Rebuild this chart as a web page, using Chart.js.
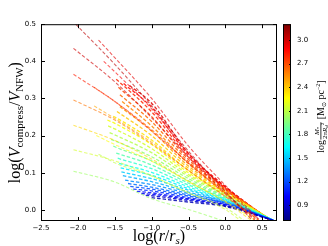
<!DOCTYPE html>
<html>
<head>
<meta charset="utf-8">
<script src="https://cdn.jsdelivr.net/npm/chart.js@4.4.0/dist/chart.umd.min.js"></script>
<style>
  html, body { margin: 0; padding: 0; background: #fff; }
  canvas { display: block; }
</style>
</head>
<body>
<canvas id="chart" width="328" height="246"></canvas>
<script>
// colour value of every curve: log M*/2piRd^2 [Msun pc^-2]
const magVal = [3.05, 2.95, 3.00, 2.90, 2.82, 2.70, 2.60, 2.48, 2.36, 2.26, 2.16, 2.10, 2.02,
                0.82, 0.90, 0.98, 1.05, 1.12, 1.20, 1.28, 1.36, 1.44, 1.52, 1.60, 1.68, 1.76, 1.84,
                1.92, 2.00, 2.08, 2.16, 2.24, 2.32, 2.40, 2.48, 2.56, 2.64, 2.72, 2.80, 2.88, 2.96];
// first point of each curve
const startX = [-2.03, -1.72, -2.06, -1.65, -2.06, -1.78, -2.06, -1.78, -2.06, -1.75, -2.06, -1.72, -2.06,
                -1.00, -1.08, -1.14, -1.20, -1.25, -1.29, -1.32, -1.36, -1.39, -1.41, -1.42, -1.44, -1.46, -1.48,
                -1.52, -1.55, -1.57, -1.59, -1.60, -1.52, -1.47, -1.43, -1.40, -1.43, -1.45, -1.48, -1.38, -1.30];
const startY = [0.500, 0.457, 0.435, 0.400, 0.365, 0.330, 0.296, 0.280, 0.228, 0.200, 0.162, 0.150, 0.104,
                0.033, 0.039, 0.044, 0.050, 0.056, 0.063, 0.071, 0.080, 0.092, 0.102, 0.113, 0.125, 0.139, 0.153,
                0.172, 0.190, 0.208, 0.226, 0.242, 0.252, 0.265, 0.278, 0.292, 0.310, 0.330, 0.352, 0.340, 0.335];
// y read at x = -1.5, -1.0, -0.5, 0.0 (null: curve not there)
const gridX = [-1.5, -1.0, -0.5, 0.0];
const yAtM15 = [0.392, 0.410, 0.345, 0.372, 0.292, 0.292, 0.242, 0.246, 0.187, 0.176, 0.132, 0.127, 0.075,
                null, null, null, null, null, null, null, null, null, null, null, null, null, null,
                0.170, 0.186, 0.202, 0.218, 0.233, 0.250, null, null, null, null, null, null, null, null];
const yAtM10 = [0.280, 0.300, 0.248, 0.272, 0.212, 0.216, 0.178, 0.182, 0.137, 0.131, 0.092, 0.091, 0.030,
                null, 0.038, 0.042, 0.046, 0.051, 0.056, 0.061, 0.068, 0.076, 0.084, 0.093, 0.101, 0.111, 0.121,
                0.132, 0.143, 0.154, 0.165, 0.176, 0.188, 0.200, 0.213, 0.226, 0.238, 0.251, 0.264, 0.276, 0.287];
const yAtM05 = [0.158, 0.172, 0.142, 0.152, 0.126, 0.126, 0.106, 0.106, 0.077, 0.076, 0.046, 0.046, 0.001,
                0.021, 0.025, 0.028, 0.030, 0.033, 0.037, 0.040, 0.044, 0.048, 0.053, 0.057, 0.062, 0.067, 0.072,
                0.078, 0.084, 0.090, 0.095, 0.100, 0.106, 0.112, 0.118, 0.124, 0.130, 0.136, 0.142, 0.147, 0.152];
const yAt00 = [0.050, 0.066, 0.046, 0.056, 0.042, 0.045, 0.036, 0.036, 0.021, 0.023, 0.001, 0.006, null,
               0.009, 0.011, 0.013, 0.014, 0.016, 0.018, 0.019, 0.021, 0.022, 0.024, 0.026, 0.028, 0.030, 0.032,
               0.035, 0.037, 0.040, 0.042, 0.044, 0.046, 0.048, 0.051, 0.053, 0.055, 0.057, 0.059, 0.061, 0.063];
// last point of each curve
const endX = [0.35, 0.45, 0.40, 0.45, 0.40, 0.45, 0.45, 0.45, 0.35, 0.40, 0.20, 0.25, -0.05,
              0.64, 0.64, 0.64, 0.65, 0.65, 0.65, 0.65, 0.65, 0.65, 0.65, 0.65, 0.65, 0.65, 0.65,
              0.65, 0.64, 0.64, 0.64, 0.64, 0.64, 0.63, 0.63, 0.63, 0.62, 0.62, 0.61, 0.60, 0.60];
const endY = [-0.025, -0.025, -0.025, -0.025, -0.028, -0.028, -0.028, -0.028, -0.028, -0.028, -0.028, -0.028, -0.028,
              -0.028, -0.028, -0.028, -0.028, -0.028, -0.028, -0.028, -0.028, -0.028, -0.028, -0.028, -0.028, -0.028, -0.028,
              -0.028, -0.028, -0.028, -0.028, -0.028, -0.028, -0.028, -0.028, -0.028, -0.028, -0.028, -0.028, -0.028, -0.028];
// the first 13 curves are the long, paler dashed ones
const longCount = 13;

const xTicks = [-2.5, -2.0, -1.5, -1.0, -0.5, 0.0, 0.5];
const yTicks = [0.0, 0.1, 0.2, 0.3, 0.4, 0.5];
const cbTicks = [0.9, 1.2, 1.5, 1.8, 2.1, 2.4, 2.7, 3.0];
const cbMin = 0.7, cbMax = 3.2;

// matplotlib 'jet'
function jet(t, a) {
    const c = v => Math.round(255 * Math.max(0, Math.min(1, v)));
    return `rgba(${c(1.5 - Math.abs(4 * t - 3))},${c(1.5 - Math.abs(4 * t - 2))},${c(1.5 - Math.abs(4 * t - 1))},${a})`;
}

function curve(i) {
    const pts = [{ x: startX[i], y: startY[i] }];
    const cols = [yAtM15, yAtM10, yAtM05, yAt00];
    gridX.forEach((gx, j) => {
        const v = cols[j][i];
        if (v !== null && gx > startX[i] && gx < endX[i]) pts.push({ x: gx, y: v });
    });
    pts.push({ x: endX[i], y: endY[i] });
    return pts;
}

const fmt = v => (v < 0 ? '\u2212' : '') + Math.abs(v).toFixed(1);
const serif = 'Liberation Serif';

// draws a run of text pieces centred on (cx, cy), rotated
function drawRich(ctx, parts, cx, cy, rot) {
    ctx.save();
    ctx.translate(cx, cy);
    ctx.rotate(rot);
    ctx.fillStyle = '#000';
    ctx.textBaseline = 'alphabetic';
    let total = 0;
    parts.forEach(p => {
        if (p.num) {
            const wOf = arr => arr.reduce((s, q) => { ctx.font = q.f; return s + ctx.measureText(q.t).width; }, 0);
            p.wn = wOf(p.num); p.wd = wOf(p.den);
            p.w = Math.max(p.wn, p.wd) + 2;
        } else {
            ctx.font = p.f;
            p.w = ctx.measureText(p.t).width;
        }
        total += p.w;
    });
    let x = -total / 2;
    parts.forEach(p => {
        if (p.num) {
            let xn = x + (p.w - p.wn) / 2;
            p.num.forEach(q => { ctx.font = q.f; ctx.fillText(q.t, xn, q.dy); xn += ctx.measureText(q.t).width; });
            let xd = x + (p.w - p.wd) / 2;
            p.den.forEach(q => { ctx.font = q.f; ctx.fillText(q.t, xd, q.dy); xd += ctx.measureText(q.t).width; });
            ctx.fillRect(x + 0.5, p.bar, p.w - 1, 0.8);
        } else {
            ctx.font = p.f;
            ctx.fillText(p.t, x, p.dy || 0);
        }
        x += p.w;
    });
    ctx.restore();
}

const decor = {
    id: 'decor',
    afterDraw(chart) {
        const { ctx, chartArea: a, scales } = chart;
        ctx.save();
        ctx.strokeStyle = '#000';
        ctx.lineWidth = 1;
        ctx.strokeRect(a.left + 0.5, a.top + 0.5, a.right - a.left - 1, a.bottom - a.top - 1);

        // inward ticks on all four sides
        ctx.beginPath();
        xTicks.forEach(v => {
            const px = Math.round(scales.x.getPixelForValue(v)) + 0.5;
            ctx.moveTo(px, a.bottom); ctx.lineTo(px, a.bottom - 4);
            ctx.moveTo(px, a.top); ctx.lineTo(px, a.top + 4);
        });
        yTicks.forEach(v => {
            const py = Math.round(scales.y.getPixelForValue(v)) + 0.5;
            ctx.moveTo(a.left, py); ctx.lineTo(a.left + 4, py);
            ctx.moveTo(a.right, py); ctx.lineTo(a.right - 4, py);
        });
        ctx.stroke();

        // colour bar
        const cb = scales.cb;
        const top = cb.getPixelForValue(cbMax), bot = cb.getPixelForValue(cbMin);
        const cbLeft = 283, cbW = 8;
        const g = ctx.createLinearGradient(0, bot, 0, top);
        for (let i = 0; i <= 40; i++) g.addColorStop(i / 40, jet(i / 40, 1));
        ctx.fillStyle = g;
        ctx.fillRect(cbLeft, top, cbW, bot - top);
        ctx.strokeRect(cbLeft + 0.5, top + 0.5, cbW - 1, bot - top - 1);
        ctx.beginPath();
        cbTicks.forEach(v => {
            const py = Math.round(cb.getPixelForValue(v)) + 0.5;
            ctx.moveTo(cbLeft + cbW, py); ctx.lineTo(cbLeft + cbW - 2, py);
        });
        ctx.stroke();
        ctx.restore();

        // axis titles
        drawRich(ctx, [
            { t: 'log(', f: `16px ${serif}` },
            { t: 'r', f: `italic 16px ${serif}` },
            { t: '/', f: `16px ${serif}` },
            { t: 'r', f: `italic 16px ${serif}` },
            { t: 's', f: `italic 11px ${serif}`, dy: 3 },
            { t: ')', f: `16px ${serif}` }
        ], (a.left + a.right) / 2, 241, 0);

        drawRich(ctx, [
            { t: 'log(', f: `16px ${serif}` },
            { t: 'V', f: `italic 16px ${serif}` },
            { t: 'compress', f: `11px ${serif}`, dy: 3 },
            { t: '/', f: `16px ${serif}` },
            { t: 'V', f: `italic 16px ${serif}` },
            { t: 'NFW', f: `11px ${serif}`, dy: 3 },
            { t: ')', f: `16px ${serif}` }
        ], 20, (a.top + a.bottom) / 2, -Math.PI / 2);

        drawRich(ctx, [
            { t: 'log', f: `10px ${serif}` },
            { num: [{ t: 'M', f: `italic 7px ${serif}`, dy: -5 }, { t: '*', f: `5px ${serif}`, dy: -4 }],
              den: [{ t: '2\u03c0', f: `7px ${serif}`, dy: 3 }, { t: 'R', f: `italic 7px ${serif}`, dy: 3 },
                    { t: 'd', f: `italic 5px ${serif}`, dy: 4 }, { t: '2', f: `5px ${serif}`, dy: 0 }],
              bar: -3.5 },
            { t: ' [M', f: `10px ${serif}` },
            { t: '\u2299', f: `6px DejaVu Sans`, dy: 2 },
            { t: ' pc', f: `10px ${serif}` },
            { t: '\u22122', f: `6px ${serif}`, dy: -4 },
            { t: ']', f: `10px ${serif}` }
        ], 324, (a.top + a.bottom) / 2 - 6, -Math.PI / 2);
    }
};

const tickFont = { family: 'DejaVu Sans', size: 7 };

new Chart(document.getElementById('chart'), {
    type: 'line',
    data: {
        datasets: magVal.map((v, i) => ({
            data: curve(i),
            borderColor: jet((v - cbMin) / (cbMax - cbMin), i < longCount ? 0.62 : 0.85),
            borderWidth: i < longCount ? 1.1 : 1.3,
            borderDash: [3.5, 2],
            pointRadius: 0,
            fill: false,
            cubicInterpolationMode: 'monotone',
            xAxisID: 'x',
            yAxisID: 'y'
        }))
    },
    options: {
        responsive: false,
        devicePixelRatio: 1,
        animation: false,
        layout: { padding: { top: 24, left: 0, right: 0, bottom: 0 } },
        plugins: { legend: { display: false }, tooltip: { enabled: false } },
        scales: {
            x: {
                type: 'linear', min: -2.5, max: 0.7,
                afterBuildTicks: s => { s.ticks = xTicks.map(v => ({ value: v })); },
                afterFit: s => { s.height = 25; },
                grid: { display: false, drawTicks: false },
                border: { display: false },
                ticks: { font: tickFont, color: '#000', padding: 3, maxRotation: 0, autoSkip: false, callback: fmt }
            },
            y: {
                type: 'linear', position: 'left', min: -0.03, max: 0.5,
                afterBuildTicks: s => { s.ticks = yTicks.map(v => ({ value: v })); },
                afterFit: s => { s.width = 41; },
                grid: { display: false, drawTicks: false },
                border: { display: false },
                ticks: { font: tickFont, color: '#000', padding: 5, autoSkip: false, callback: fmt }
            },
            cb: {
                type: 'linear', position: 'right', min: cbMin, max: cbMax,
                afterBuildTicks: s => { s.ticks = cbTicks.map(v => ({ value: v })); },
                afterFit: s => { s.width = 51; },
                grid: { display: false, drawTicks: false },
                border: { display: false },
                ticks: { font: tickFont, color: '#000', padding: 20, autoSkip: false, callback: fmt }
            }
        }
    },
    plugins: [decor]
});
</script>
</body>
</html>
